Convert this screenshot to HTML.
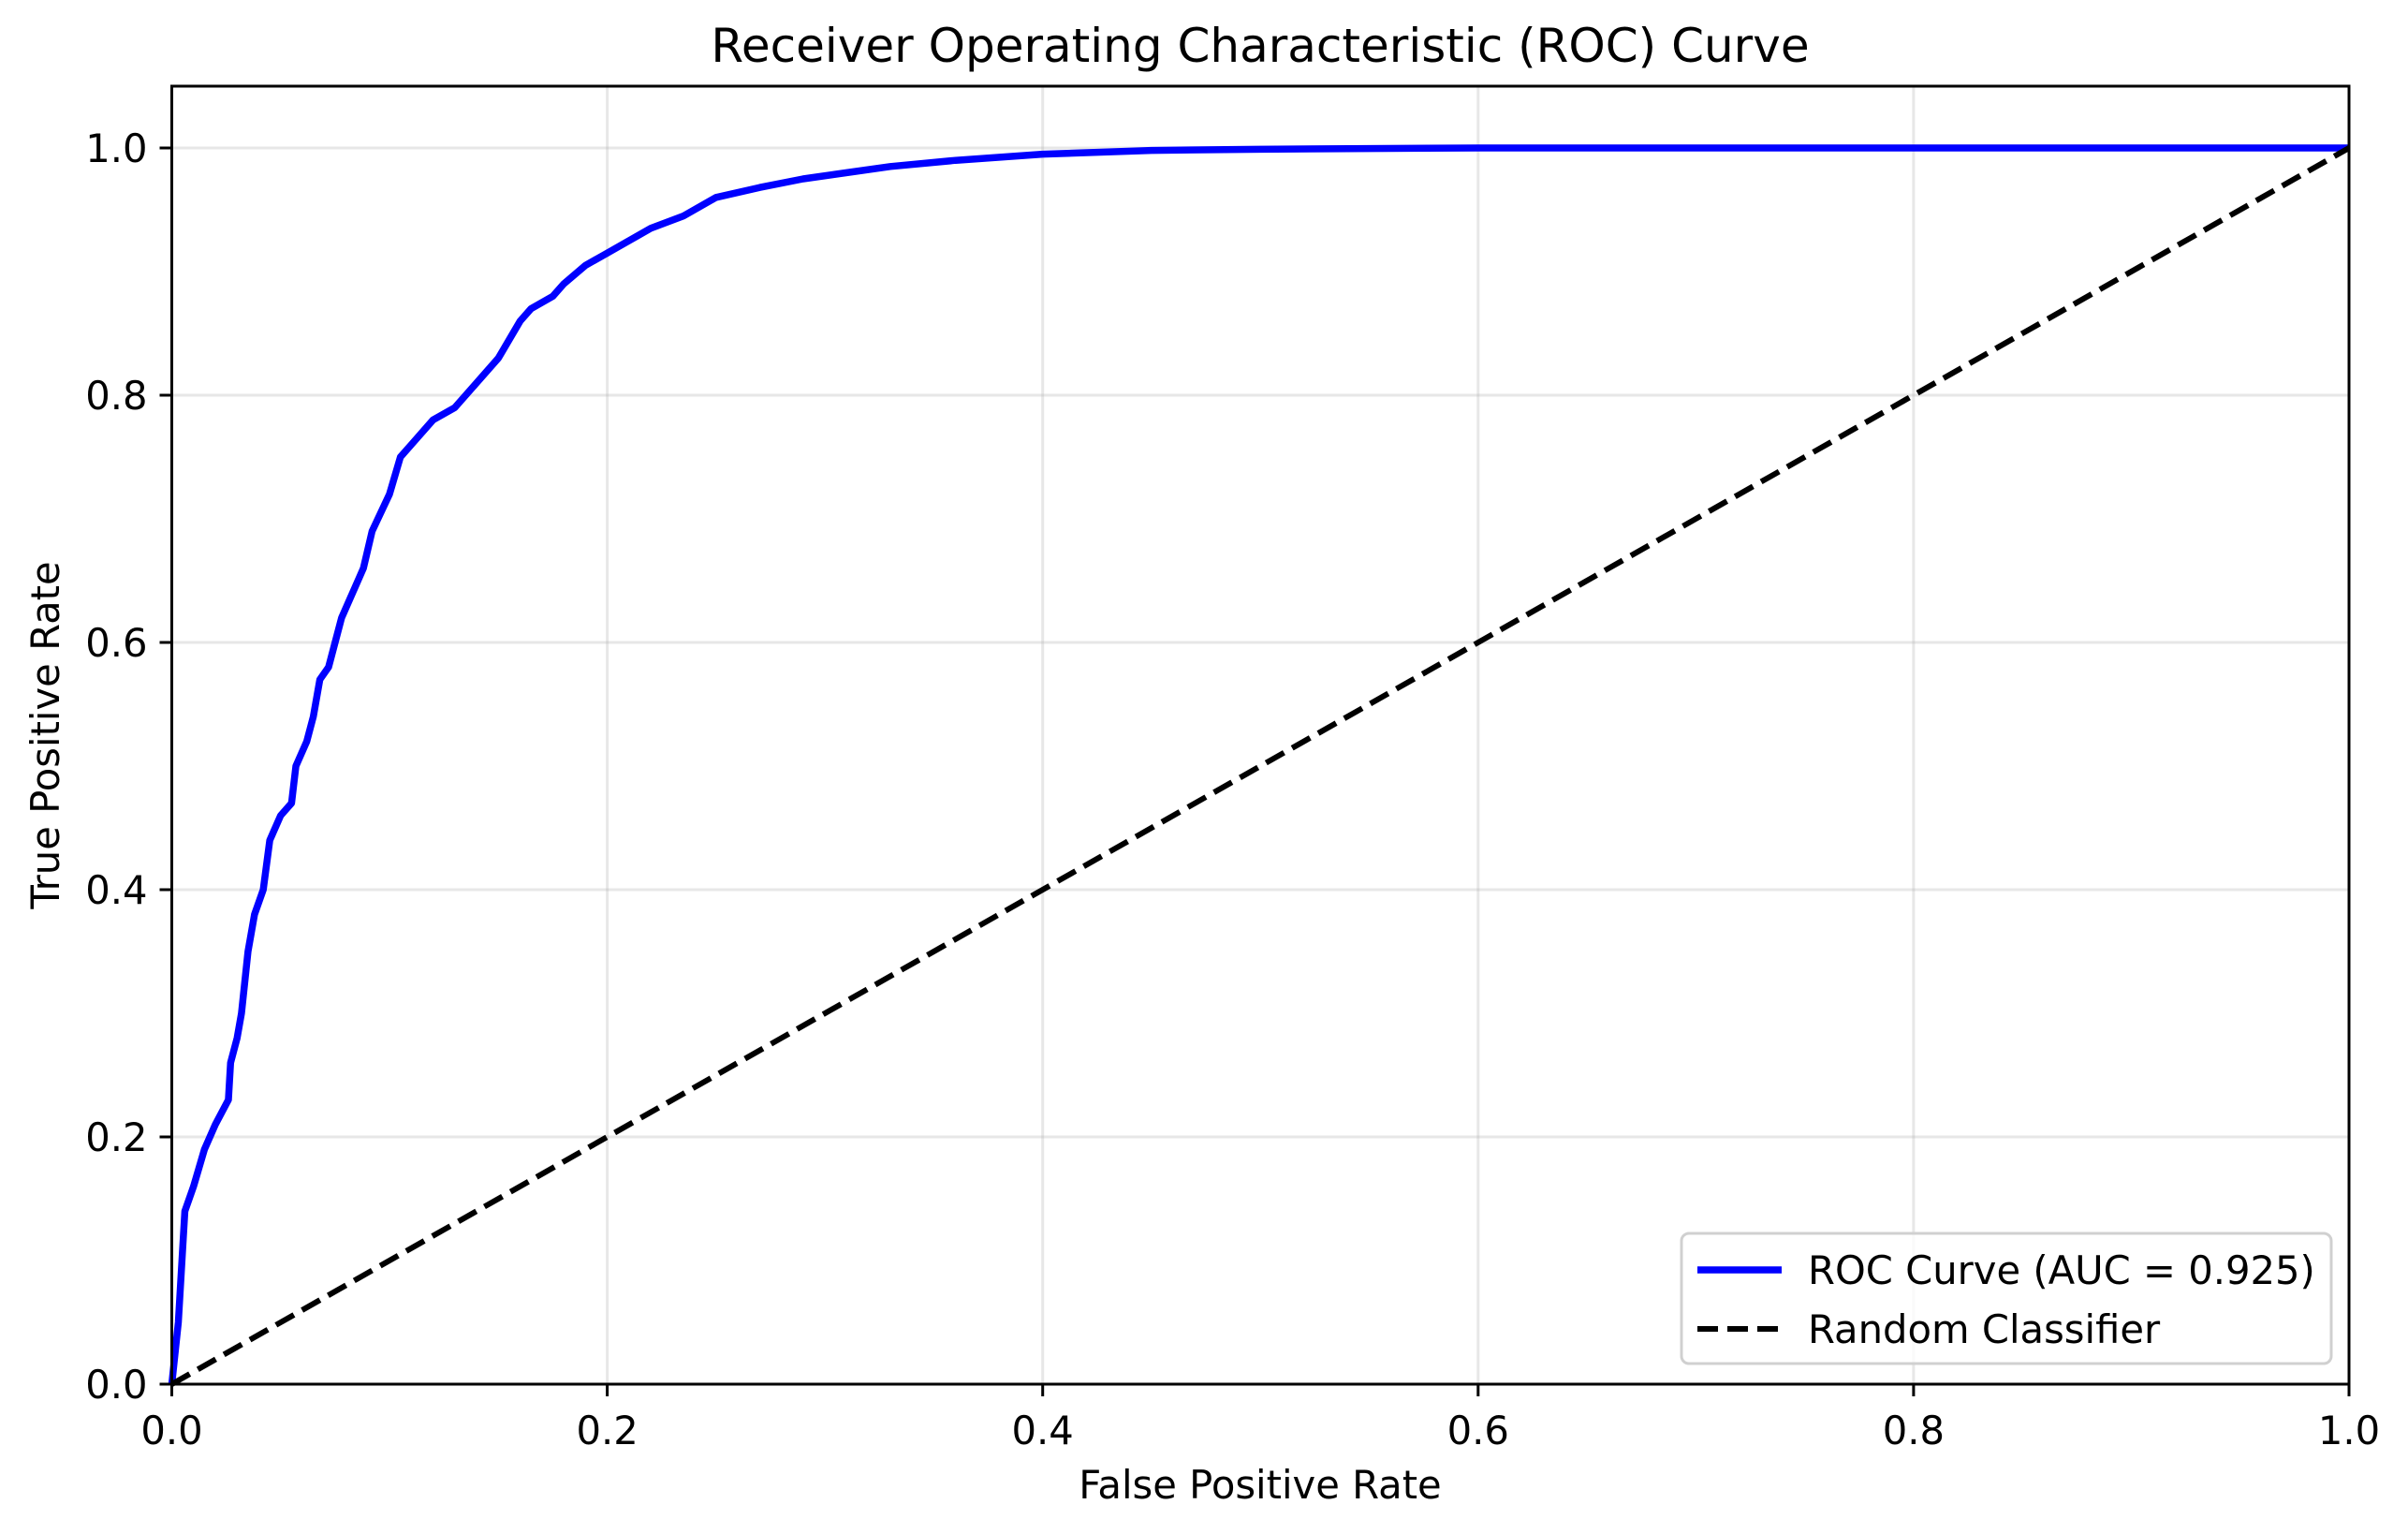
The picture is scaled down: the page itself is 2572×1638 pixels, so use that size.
<!DOCTYPE html>
<html><head><meta charset="utf-8"><style>
html,body{margin:0;padding:0;background:#fff;}
svg{display:block;font-family:"DejaVu Sans","Liberation Sans",sans-serif;}
</style></head><body>
<svg id="chart" width="2572" height="1638" viewBox="0 0 2572 1638" xmlns="http://www.w3.org/2000/svg">
<rect width="2572" height="1638" fill="#fff"/>
<g id="grid"></g>
<g id="series"></g>
<rect x="183.5" y="92" width="2325.5" height="1386" fill="none" stroke="#000" stroke-width="3"/>
<g id="ticks"></g>
<text x="1346" y="66" font-size="50" text-anchor="middle">Receiver Operating Characteristic (ROC) Curve</text>
<text x="1346" y="1600" font-size="41.7" text-anchor="middle">False Positive Rate</text>
<text x="0" y="0" font-size="41.7" text-anchor="middle" transform="translate(63,785) rotate(-90)">True Positive Rate</text>
<g>
<rect x="1796" y="1317" width="694" height="139" rx="8" fill="#fff" fill-opacity="0.8" stroke="#d0d0d0" stroke-width="3"/>
<line x1="1813" y1="1356" x2="1903" y2="1356" stroke="#0000ff" stroke-width="7.5"/>
<text x="1931" y="1371" font-size="41.7">ROC Curve (AUC = 0.925)</text>
<line x1="1813" y1="1419" x2="1903" y2="1419" stroke="#000" stroke-width="6" stroke-dasharray="22,10"/>
<text x="1931" y="1434" font-size="41.7">Random Classifier</text>
</g>
</svg>
<script>
const fpr = [0,0.003,0.006,0.01,0.015,0.02,0.026,0.027,0.03,0.032,0.035,0.038,0.042,0.045,0.05,0.055,0.057,0.062,0.065,0.068,0.072,0.075,0.078,0.083,0.088,0.092,0.1,0.105,0.11,0.12,0.13,0.14,0.15,0.16,0.165,0.175,0.18,0.19,0.2,0.21,0.22,0.235,0.25,0.27,0.29,0.31,0.33,0.36,0.4,0.45,0.5,0.6,1.0];
const tpr = [0,0.05,0.14,0.16,0.19,0.21,0.23,0.26,0.28,0.30,0.35,0.38,0.40,0.44,0.46,0.47,0.50,0.52,0.54,0.57,0.58,0.60,0.62,0.64,0.66,0.69,0.72,0.75,0.76,0.78,0.79,0.81,0.83,0.86,0.87,0.88,0.89,0.905,0.915,0.925,0.935,0.945,0.96,0.968,0.975,0.98,0.985,0.99,0.995,0.998,0.999,1.0,1.0];
const diagX = [0,1];
const diagY = [0,1];
const xTicks = [0,0.2,0.4,0.6,0.8,1.0];
const yTicks = [0,0.2,0.4,0.6,0.8,1.0];
const xTickLabels = ["0.0","0.2","0.4","0.6","0.8","1.0"];
const yTickLabels = ["0.0","0.2","0.4","0.6","0.8","1.0"];

const L=183.5,R=2509,B=1478,T=92;
const sx=v=>L+(v-0)/(1-0)*(R-L);
const sy=v=>B-(v-0)/(1.05-0)*(B-T);
const NS="http://www.w3.org/2000/svg";
function mk(tag,parent,attrs){const e=document.createElementNS(NS,tag);for(const k in attrs)e.setAttribute(k,attrs[k]);parent.appendChild(e);return e;}
const grid=document.getElementById('grid'),ticks=document.getElementById('ticks'),series=document.getElementById('series');
xTicks.forEach((v,i)=>{
  const g=mk('line',grid,{x1:sx(v),x2:sx(v),y1:T,y2:B,stroke:'#b0b0b0','stroke-opacity':0.3,'stroke-width':3});
  
  
  const t=mk('line',ticks,{x1:sx(v),x2:sx(v),y1:B,y2:B+13,stroke:'#000','stroke-width':3});
  
  
  const l=mk('text',ticks,{x:sx(v),y:B+64,'font-size':41.7,'text-anchor':'middle'});
  l.textContent=xTickLabels[i];
  
  
});
yTicks.forEach((v,i)=>{
  const g=mk('line',grid,{x1:L,x2:R,y1:sy(v),y2:sy(v),stroke:'#b0b0b0','stroke-opacity':0.3,'stroke-width':3});
  
  
  const t=mk('line',ticks,{x1:L-13,x2:L,y1:sy(v),y2:sy(v),stroke:'#000','stroke-width':3});
  
  
  const l=mk('text',ticks,{x:L-26,y:sy(v)+15,'font-size':41.7,'text-anchor':'end'});
  l.textContent=yTickLabels[i];
  
  
});
const roc=mk('polyline',series,{points:fpr.map((x,i)=>sx(x)+','+sy(tpr[i])).join(' '),fill:'none',stroke:'#0000ff','stroke-width':7.5,'stroke-linejoin':'round'});


const diag=mk('polyline',series,{points:diagX.map((x,i)=>sx(x)+','+sy(diagY[i])).join(' '),fill:'none',stroke:'#000','stroke-width':6,'stroke-dasharray':'22,10'});


</script>
</body></html>
